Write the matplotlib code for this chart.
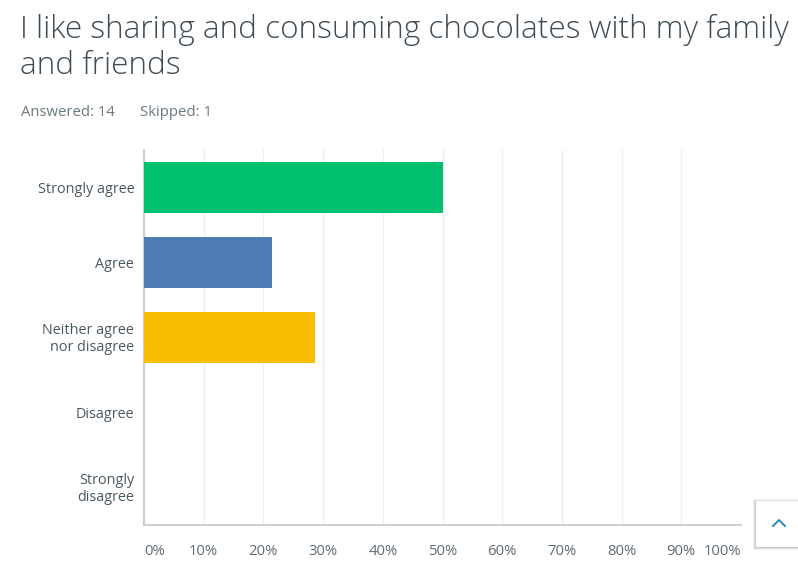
import matplotlib
matplotlib.use("Agg")
import matplotlib.pyplot as plt
from matplotlib.patches import Rectangle
from matplotlib.transforms import ScaledTranslation

categories = ["Strongly agree", "Agree", "Neither agree\nnor disagree", "Disagree", "Strongly\ndisagree"]
values = [50.0, 21.43, 28.57, 0, 0]
colors = ["#00BF6F", "#507CB6", "#F9BE00", "#6BC8CD", "#7D5E90"]
ticks = list(range(0, 101, 10))
tick_labels = [f"{t}%" for t in ticks]
title_lines = ["I like sharing and consuming chocolates with my family", "and friends"]
answered = "Answered: 14"
skipped = "Skipped: 1"

W, H = 798, 570
plt.rcParams['font.family'] = ['Open Sans', 'DejaVu Sans']
fig = plt.figure(figsize=(W/100, H/100), dpi=100)
ax = fig.add_axes([144/W, 1-525/H, (741-144)/W, (525-150)/H])
ax.set_xlim(0, 100)
ax.set_ylim(5, 0)
ypos = [0.5, 1.5, 2.5, 3.5, 4.5]
ax.barh(ypos, values, height=0.67, color=colors, zorder=3)
ax.set_xticks(ticks)
ax.set_xticklabels(tick_labels, fontsize=10.7, color="#5F6C73")
ax.set_yticks(ypos)
ax.set_yticklabels(categories, fontsize=10.4, color="#4A5960", ha="right", linespacing=1.2)
ax.tick_params(axis='x', length=0, pad=14)
ax.tick_params(axis='y', length=0, pad=7)
ax.grid(axis='x', color="#EDEEEE", lw=1, zorder=0)

# first and last x labels sit inside the plot width
xlabels = ax.get_xticklabels()
xlabels[0].set_ha("left")
xlabels[0].set_x(0.2)
xlabels[-1].set_ha("right")

# two-line category labels sit slightly higher
for lab, name in zip(ax.get_yticklabels(), categories):
    if "\n" in name:
        lab.set_transform(lab.get_transform() + ScaledTranslation(0, 2/100, fig.dpi_scale_trans))

for s in ['top', 'right']:
    ax.spines[s].set_visible(False)
ax.spines['left'].set_color("#CCCFD0")
ax.spines['left'].set_linewidth(1.5)
ax.spines['bottom'].set_color("#CCCFD0")
ax.spines['bottom'].set_linewidth(1.3)

fig.text(20/W, 1-29.5/H, title_lines[0], fontsize=22.7, color="#3F4C55", va="center", fontweight='light')
fig.text(20/W, 1-66.5/H, title_lines[1], fontsize=22.7, color="#3F4C55", va="center", fontweight='light')
fig.text(21/W, 1-113/H, answered, fontsize=10.7, color="#6B787F", va="center")
fig.text(140/W, 1-113/H, skipped, fontsize=10.8, color="#6B787F", va="center")

# scroll-to-top button with soft shadow
for off, alpha in [(3, 0.05), (2, 0.08), (1, 0.10)]:
    fig.add_artist(Rectangle(((756-off)/W, 1-(547+off)/H), (42+off)/W, (46+2*off-1)/H,
                             transform=fig.transFigure, facecolor="#000000", edgecolor="none", alpha=alpha, zorder=5))
fig.add_artist(Rectangle((756/W, 1-547/H), 42/W, 46/H, transform=fig.transFigure,
                         facecolor="white", edgecolor="none", zorder=5.5))
fig.add_artist(plt.Line2D([773/W, 779/W, 785/W], [1-526/H, 1-520/H, 1-526/H], color="#2A8CB0", lw=1.4, zorder=6))

fig.savefig("out.png", dpi=100)
